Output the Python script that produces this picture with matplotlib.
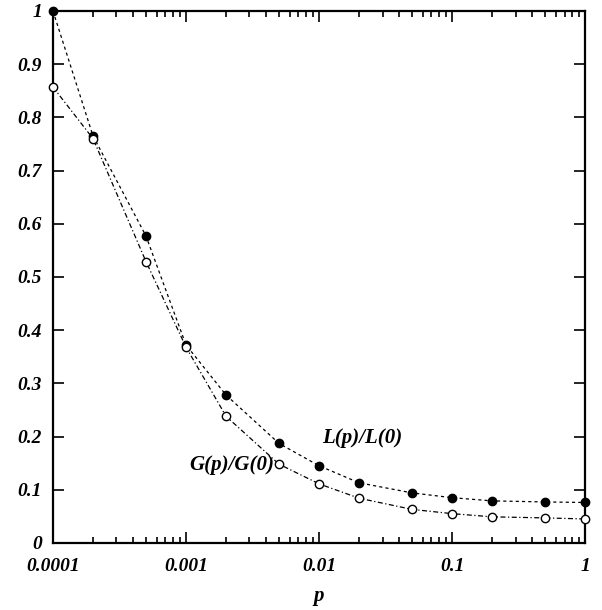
import numpy as np
import matplotlib
matplotlib.use('Agg')
import matplotlib.pyplot as plt
from matplotlib.ticker import FixedLocator, LogLocator, NullFormatter

p = [0.0001, 0.0002, 0.0005, 0.001, 0.002, 0.005, 0.01, 0.02, 0.05, 0.1, 0.2, 0.5, 1.0]
L_ratio = [1.0, 0.765, 0.577, 0.372, 0.278, 0.187, 0.145, 0.113, 0.094, 0.085, 0.079, 0.077, 0.076]
G_ratio = [0.857, 0.760, 0.529, 0.368, 0.238, 0.148, 0.111, 0.084, 0.063, 0.055, 0.049, 0.047, 0.045]

x_ticks = [0.0001, 0.001, 0.01, 0.1, 1]
x_tick_labels = ['0.0001', '0.001', '0.01', '0.1', '1']
y_ticks = [0, 0.1, 0.2, 0.3, 0.4, 0.5, 0.6, 0.7, 0.8, 0.9, 1]
y_tick_labels = ['0', '0.1', '0.2', '0.3', '0.4', '0.5', '0.6', '0.7', '0.8', '0.9', '1']

font = dict(family='Liberation Serif', weight='bold', style='italic')

fig = plt.figure(figsize=(6.02, 6.10), dpi=100)
ax = fig.add_axes([0.088, 0.110, 0.884, 0.872])

ax.plot(p, L_ratio, color='black', lw=0.9, linestyle=(0, (2.5, 2.5)),
        marker='o', markersize=6, markerfacecolor='black', markeredgecolor='black',
        clip_on=False, zorder=3)
ax.plot(p, G_ratio, color='black', lw=0.9, linestyle=(0, (4, 2, 1, 2)),
        marker='o', markersize=6, markerfacecolor='white', markeredgecolor='black',
        markeredgewidth=1.0, clip_on=False, zorder=3)

ax.set_xscale('log')
ax.set_xlim(0.0001, 1)
ax.set_ylim(0, 1)

ax.xaxis.set_major_locator(FixedLocator(x_ticks))
ax.set_xticklabels(x_tick_labels, fontdict=font, fontsize=14)
ax.xaxis.set_minor_locator(LogLocator(base=10, subs=np.arange(2, 10)))
ax.xaxis.set_minor_formatter(NullFormatter())
ax.set_yticks(y_ticks)
ax.set_yticklabels(y_tick_labels, fontdict=font, fontsize=14)

ax.tick_params(which='both', direction='in', top=True, right=True, width=1.2)
ax.tick_params(which='major', length=8)
ax.tick_params(which='minor', length=4)
ax.tick_params(axis='x', which='major', pad=11)
ax.tick_params(axis='y', which='major', pad=8)
for s in ax.spines.values():
    s.set_linewidth(1.6)

ax.set_xlabel('p', fontdict=font, fontsize=15, labelpad=8)

ax.text(0.0105, 0.197, 'L(p)/L(0)', fontdict=font, fontsize=15, ha='left', va='center')
ax.text(0.0046, 0.147, 'G(p)/G(0)', fontdict=font, fontsize=15, ha='right', va='center')

fig.savefig('out.png', dpi=100)
